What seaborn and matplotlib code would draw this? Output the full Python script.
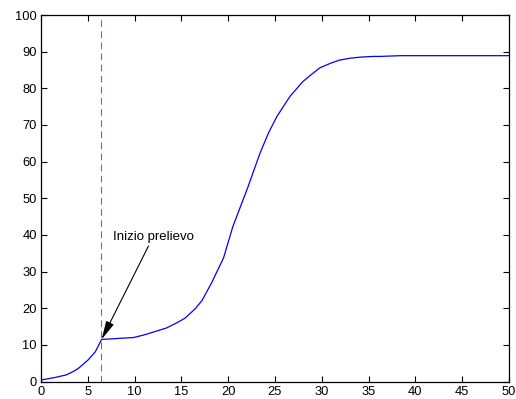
import matplotlib
matplotlib.use("Agg")
import matplotlib.pyplot as plt
import seaborn as sns
import pandas as pd

time = [0, 1.5, 2.7, 3.5, 4.0, 5.0, 5.8, 6.48, 7.4, 8.5, 9.9, 11.0, 12.4, 13.4, 14.5, 15.4, 16.5,
        17.2, 18.2, 19.5, 20.5, 22.0, 23.4, 24.3, 25.2, 26.6, 28.0, 29.0, 29.8, 31.0, 31.9, 33.0,
        34.1, 35.5, 36.2, 38.4, 50.0]
value = [0.4, 1.1, 1.8, 2.8, 3.6, 5.8, 8.1, 11.5, 11.6, 11.8, 12.0, 12.7, 13.8, 14.6, 16.0, 17.3, 19.9,
         22.1, 26.8, 33.7, 42.3, 52.3, 62.3, 67.8, 72.3, 77.8, 81.9, 84.0, 85.6, 86.9, 87.7, 88.2,
         88.5, 88.7, 88.7, 88.9, 88.9]
marker_x = 6.45
annot_text = "Inizio prelievo"
xticks = [0, 5, 10, 15, 20, 25, 30, 35, 40, 45, 50]
yticks = [0, 10, 20, 30, 40, 50, 60, 70, 80, 90, 100]

sns.set_style("white")
plt.rcParams['font.family'] = ['Liberation Sans', 'DejaVu Sans']

df = pd.DataFrame({"t": time, "v": value})

fig = plt.figure(figsize=(5.16, 3.99), dpi=100)
ax = fig.add_axes([41/516, 1 - 381.5/399, 468/516, 366.5/399])

sns.lineplot(data=df, x="t", y="v", ax=ax, color="#0000ff", linewidth=0.9)
ax.axvline(marker_x, color="#cc33cc", linestyle=(0, (6, 4)), linewidth=0.8)

ax.annotate(annot_text, xy=(6.48, 11.5), xytext=(7.66, 39.5),
            fontsize=9.5, va="center", ha="left", color="black",
            arrowprops=dict(arrowstyle="-|>,head_length=0.8,head_width=0.18", color="black", lw=0.8,
                            mutation_scale=14, shrinkA=0, shrinkB=0),
            )

ax.set_xlim(0, 50)
ax.set_ylim(0, 100)
ax.set_xticks(xticks)
ax.set_yticks(yticks)
ax.set_xlabel("")
ax.set_ylabel("")
ax.tick_params(direction="in", length=4, width=0.8, labelsize=9.3, colors="black",
               top=True, right=True, bottom=True, left=True, pad=3)
for s in ax.spines.values():
    s.set_visible(True)
    s.set_color("black")
    s.set_linewidth(0.9)

fig.savefig("out.png", dpi=100)
